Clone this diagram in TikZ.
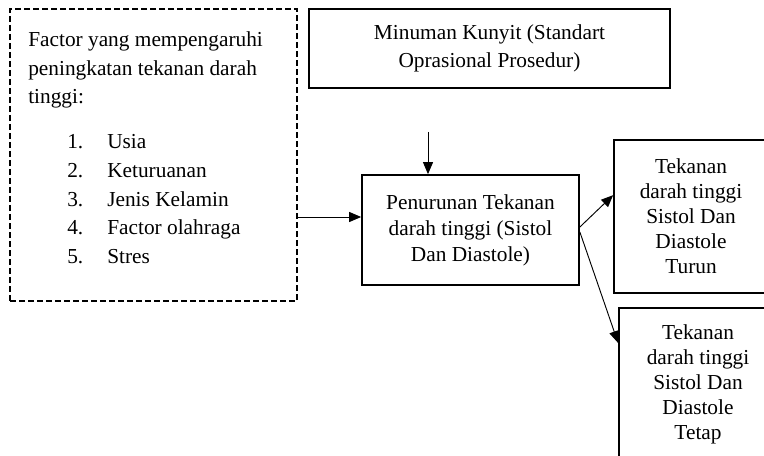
\documentclass[tikz,border=0pt]{standalone}
\usepackage{fontspec}
\setmainfont{Liberation Serif}
\usetikzlibrary{arrows.meta}
\begin{document}
\begin{tikzpicture}[x=0.75pt,y=-0.75pt,
  boxsolid/.style={draw, line width=1.3pt, align=center, inner sep=0pt},
  boxdash/.style={draw, line width=1.1pt, dash pattern=on 4.5pt off 2.25pt, inner sep=0pt},
  arr/.style={line width=0.7pt, -{Triangle[length=9pt,width=7.5pt]}},
  txt/.style={anchor=base west, inner sep=0pt, font=\fontsize{16}{21}\selectfont}]
\useasboundingbox (0,0) rectangle (764,456);
\clip (0,0) rectangle (764,456);
% dashed factor box
\node[boxdash, minimum width=215.25pt, minimum height=219pt] (fac) at (153.5,155) {};
\node[txt] (h1) at (28,47) {Factor yang mempengaruhi};
\node[txt] (h2) at (28,75.5) {peningkatan tekanan darah};
\node[txt] (h3) at (28,104) {tinggi:};
\foreach \n/\t/\y in {1/Usia/149, 2/Keturuanan/177.5, 3/Jenis Kelamin/206, 4/Factor olahraga/234.5, 5/Stres/263}{
  \node[txt] (num\n) at (67,\y) {\n.};
  \node[txt] (item\n) at (107,\y) {\t};
}
% top box
\node[boxsolid, minimum width=270.75pt, minimum height=59.25pt,
  font=\fontsize{16}{21.5}\selectfont] (min) at (489.5,48.5)
  {Minuman Kunyit (Standart\\Oprasional Prosedur)};
% middle box
\node[boxsolid, minimum width=162.75pt, minimum height=82.5pt,
  font=\fontsize{16}{19.5}\selectfont] (pen) at (470.5,230)
  {Penurunan Tekanan\\darah tinggi (Sistol\\Dan Diastole)};
% result boxes
\node[boxsolid, minimum width=115.5pt, minimum height=114.75pt,
  font=\fontsize{16}{18.75}\selectfont] (tur) at (691,216.5)
  {Tekanan\\darah tinggi\\Sistol Dan\\Diastole\\Turun};
\node[boxsolid, minimum width=118.5pt, minimum height=114pt,
  font=\fontsize{16}{18.75}\selectfont] (tet) at (698,384)
  {Tekanan\\darah tinggi\\Sistol Dan\\Diastole\\Tetap};
% connectors
\coordinate (dtop) at (428,132);
\coordinate (lrow) at (0,217);
\draw[arr] (dtop) -- (dtop |- pen.north);
\draw[arr] (fac.east |- lrow) -- (pen.west |- lrow);
\draw[arr] ([yshift=2.25pt]pen.east) -- ([yshift=16pt]tur.west);
\draw[arr] ([yshift=-1.5pt]pen.east) -- ([yshift=30.75pt]tet.west);
\end{tikzpicture}
\end{document}
